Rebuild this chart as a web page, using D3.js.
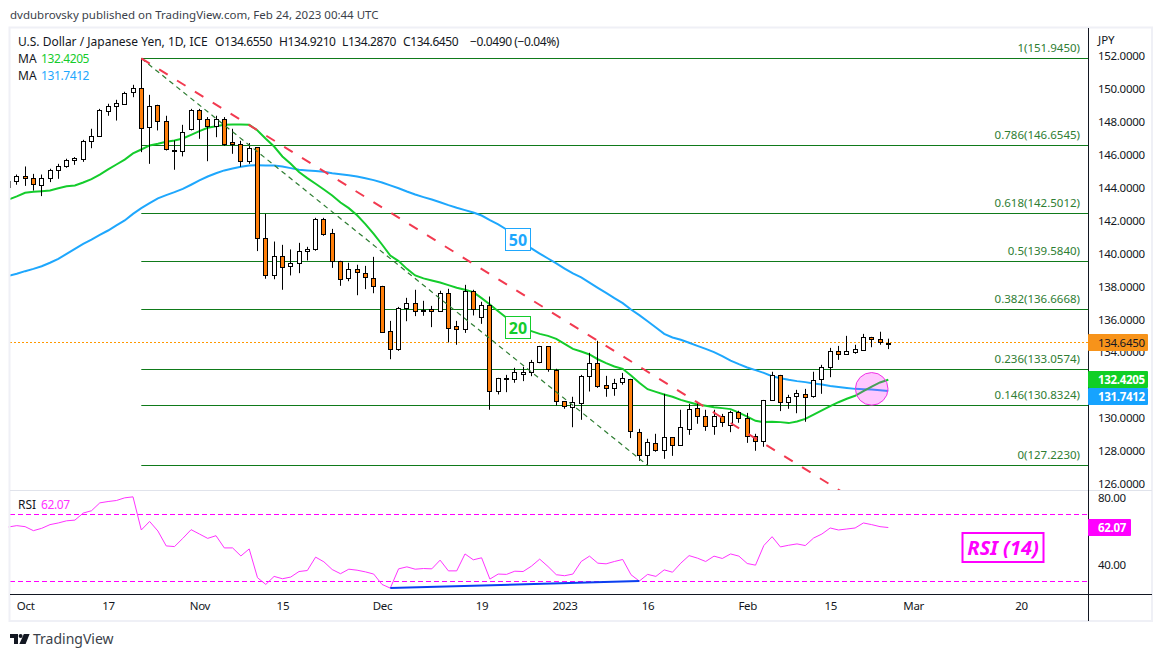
<!DOCTYPE html>
<html>
<head>
<meta charset="utf-8">
<script src="https://d3js.org/d3.v7.min.js"></script>
<style>
  body { margin: 0; background: #fff; }
  text { font-family: "Noto Sans", sans-serif; }
</style>
</head>
<body>
<svg id="chart" width="1162" height="657"></svg>
<script>
// daily USD/JPY candles, first entry is the one cut off by the left edge
var opens = [144.10,144.47,144.75,144.63,144.20,144.63,145.12,145.36,145.72,145.78,146.88,147.20,148.70,149.00,149.19,149.85,150.10,147.73,149.07,148.09,146.33,146.27,147.61,148.76,148.21,147.79,148.21,146.82,146.70,145.66,146.51,140.99,138.74,139.89,139.28,139.47,140.20,140.32,142.14,141.29,139.59,138.56,139.10,138.86,138.56,138.07,135.34,134.24,136.73,137.04,136.63,136.67,136.55,137.64,135.64,135.46,137.77,136.19,136.91,131.67,132.48,132.42,132.72,132.84,133.45,134.42,132.97,131.08,130.72,130.94,132.60,133.39,132.05,131.87,132.24,132.42,129.20,127.80,128.53,128.11,128.90,128.41,129.38,130.66,130.17,129.56,130.17,129.62,130.41,130.05,128.96,128.65,131.14,132.66,131.02,131.39,131.51,131.39,132.42,133.15,134.12,133.94,134.06,134.18,134.97,134.85,134.655];
var highs = [144.55,144.89,145.38,144.93,144.89,145.24,145.54,145.85,145.95,147.00,147.67,148.88,149.19,149.43,149.92,150.34,151.945,149.73,149.13,148.46,146.96,147.91,148.88,148.88,148.38,148.46,148.38,147.67,146.94,146.80,146.55,142.50,140.82,140.62,140.34,140.74,140.50,142.26,142.26,141.59,139.65,139.53,139.41,139.34,139.89,138.13,136.00,136.85,137.40,137.89,137.22,136.91,137.83,137.95,136.00,138.19,137.89,137.16,137.48,132.54,132.72,133.15,133.21,133.63,134.48,134.42,133.09,131.08,131.39,132.72,134.06,134.79,132.66,132.48,132.84,132.48,129.44,128.84,129.14,131.57,128.90,130.60,130.96,131.08,130.60,130.60,130.35,130.54,130.54,130.41,129.14,131.20,132.91,132.72,131.51,131.81,131.87,132.91,133.33,134.36,134.48,135.09,134.55,135.21,135.03,135.34,134.921];
var lows = [144.00,144.27,144.20,143.92,143.58,144.43,144.63,145.30,145.48,145.66,146.49,147.18,148.46,148.17,149.19,149.59,146.25,145.54,147.57,146.35,145.18,145.99,147.57,147.06,145.70,147.16,146.63,146.15,145.36,145.54,140.24,138.56,138.53,137.89,138.76,138.90,139.67,140.26,141.17,139.22,138.13,138.41,137.56,137.93,137.68,135.27,133.67,134.18,135.98,136.29,136.31,135.62,136.55,134.69,134.55,135.27,136.33,135.82,130.60,131.53,131.67,132.24,132.34,132.64,133.43,132.91,130.86,130.66,129.54,129.99,131.71,131.93,131.39,131.45,132.12,128.88,127.50,127.223,128.05,127.62,127.80,128.41,129.08,129.75,129.32,129.08,129.56,129.24,129.81,128.59,128.11,128.35,131.14,130.52,130.66,130.39,129.87,131.33,131.57,132.58,133.63,133.94,134.00,134.18,134.40,134.55,134.287];
var closes = [144.47,144.75,144.63,144.27,144.63,145.12,145.36,145.72,145.85,146.88,147.18,148.76,149.00,149.19,149.83,150.10,147.67,149.00,148.09,146.39,146.27,147.42,148.76,148.21,147.79,148.21,146.70,146.72,145.66,146.45,140.99,138.74,139.89,139.22,139.47,140.20,140.32,142.14,141.23,139.59,138.49,139.10,138.92,138.62,138.07,135.27,134.24,136.73,137.04,136.55,136.59,136.55,137.64,135.52,135.46,137.77,136.67,136.91,131.69,132.48,132.42,132.84,132.84,133.45,134.42,133.03,131.08,130.78,131.02,132.60,133.39,131.99,131.87,132.18,132.48,129.26,127.80,128.59,128.11,128.90,128.41,129.50,130.60,130.17,129.56,130.17,129.81,130.41,130.05,128.96,128.65,131.14,132.66,131.02,131.33,131.57,131.33,132.36,133.15,134.12,133.94,134.12,134.24,134.97,134.85,134.67,134.645];

var ma20 = [143.37,143.56,143.78,143.84,143.88,143.92,144.06,144.18,144.23,144.41,144.61,144.89,145.20,145.50,145.80,146.17,146.41,146.66,146.76,146.88,146.96,147.08,147.30,147.53,147.73,147.83,147.91,147.93,147.93,147.91,147.57,147.06,146.59,145.99,145.54,145.04,144.67,144.33,143.98,143.62,143.19,142.85,142.42,141.88,141.29,140.64,139.97,139.63,139.16,138.76,138.58,138.45,138.33,138.17,138.01,137.89,137.75,137.38,137.00,136.59,136.19,135.82,135.56,135.38,135.21,135.09,134.91,134.61,134.30,134.14,133.96,133.67,133.43,133.23,133.09,132.68,132.24,131.85,131.69,131.53,131.39,131.20,131.06,130.92,130.84,130.76,130.70,130.64,130.43,130.19,129.93,129.85,129.87,129.85,129.79,129.89,130.05,130.31,130.56,130.82,131.06,131.27,131.45,131.73,132.01,132.26,132.4205];
var ma50 = [138.74,138.86,139.02,139.16,139.32,139.53,139.77,140.07,140.38,140.68,140.94,141.23,141.49,141.80,142.10,142.50,142.85,143.15,143.44,143.64,143.82,144.02,144.27,144.53,144.77,144.97,145.14,145.26,145.36,145.44,145.46,145.44,145.44,145.38,145.28,145.18,145.14,145.10,145.06,144.97,144.91,144.85,144.77,144.67,144.55,144.41,144.23,144.06,143.86,143.68,143.52,143.37,143.21,143.03,142.87,142.73,142.58,142.40,142.12,141.86,141.55,141.19,140.82,140.40,140.09,139.79,139.49,139.18,138.88,138.64,138.33,138.01,137.70,137.38,137.08,136.69,136.35,135.98,135.60,135.21,134.99,134.85,134.67,134.48,134.30,134.10,133.86,133.59,133.37,133.17,133.01,132.84,132.64,132.52,132.42,132.34,132.28,132.20,132.14,132.05,131.99,131.93,131.87,131.85,131.83,131.79,131.7412];
var rsi = [62.4,63.2,62.6,60.2,61.6,63.8,64.8,66.1,66.5,70.7,72.1,76.8,77.6,78.2,79.8,80.4,60.6,65.7,60.0,51.1,50.7,55.6,60.8,58.2,55.6,57.2,49.9,49.9,45.1,49.3,32.1,28.1,32.9,31.5,32.5,35.8,36.4,44.4,41.6,37.0,34.5,37.2,36.6,35.6,34.3,28.1,25.9,37.4,38.6,37.2,37.6,37.4,42.6,36.2,36.2,46.3,42.8,44.0,31.3,34.3,34.1,36.0,35.8,39.0,43.2,38.8,33.9,33.3,34.3,41.8,45.0,40.8,40.4,41.8,43.0,33.9,30.1,34.1,32.9,36.8,35.4,40.8,45.3,43.8,41.8,45.0,43.6,46.3,45.0,40.6,39.6,51.3,56.6,50.5,51.5,52.3,51.3,55.8,58.2,61.8,60.6,61.2,61.8,64.8,63.8,62.6,62.07];

var fibLevels = [151.945,146.6545,142.5012,139.584,136.6668,133.0574,130.8324,127.223];
var fibLabels = ["1(151.9450)","0.786(146.6545)","0.618(142.5012)","0.5(139.5840)","0.382(136.6668)","0.236(133.0574)","0.146(130.8324)","0(127.2230)"];

var priceTicks = [152,150,148,146,144,142,140,138,136,134,130,128,126];
var rsiTicks = [80,40];
var timeTickDays = [1,11,22,32,44,56,66,76,88,98,108,121];
var timeTickLabels = ["Oct","17","Nov","15","Dec","19","2023","16","Feb","15","Mar","20"];

var peakDay = 15, lowDay = 76, trendEndDay = 105, trendEndPrice = 123.87;
var divergenceDays = [45,75], divergenceRsi = [25.9,30.1];
var circleDay = 103, circlePrice = 131.87;

var lastPrice = 134.645;

var svg = d3.select("#chart");
var days = d3.range(-1, 106);

var x = d3.scaleLinear().domain([15, 105]).range([141.3, 888.3]);
var y = d3.scaleLinear().domain([126, 152]).range([485.5, 57.5]);
var yRsi = d3.scaleLinear().domain([40, 80]).range([564.5, 497.5]);

var plotLeft = 10, plotRight = 1088, plotTop = 28, plotMid = 490, plotBottom = 594, frameRight = 1152, frameBottom = 621;

var crisp = function(v) { return Math.round(v - 0.5) + 0.5; };

svg.append("rect").attr("width", 1162).attr("height", 657).attr("fill", "#fff");

svg.append("text").attr("x", 10).attr("y", 19).attr("font-size", 11.5).attr("fill", "#3b3f4a")
  .text("dvdubrovsky published on TradingView.com, Feb 24, 2023 00:44 UTC");

var defs = svg.append("defs");
defs.append("clipPath").attr("id", "priceClip").append("rect")
  .attr("x", plotLeft).attr("y", plotTop).attr("width", plotRight - plotLeft).attr("height", plotMid - plotTop);

var price = svg.append("g").attr("clip-path", "url(#priceClip)");

// fib levels
price.selectAll(".fib").data(fibLevels).enter().append("line")
  .attr("x1", x(peakDay)).attr("x2", plotRight)
  .attr("y1", function(d) { return crisp(y(d)); }).attr("y2", function(d) { return crisp(y(d)); })
  .attr("stroke", "#0f7a1a").attr("stroke-width", 1);

// last price
price.append("line").attr("x1", plotLeft).attr("x2", plotRight)
  .attr("y1", crisp(y(lastPrice) - 1)).attr("y2", crisp(y(lastPrice) - 1))
  .attr("stroke", "#ff9800").attr("stroke-width", 1).attr("stroke-dasharray", "2 2");

// moving averages
var maLine = d3.line().x(function(d, i) { return x(days[i]); }).y(function(d) { return y(d); });
price.append("path").attr("d", maLine(ma50)).attr("fill", "none").attr("stroke", "#1ea7fd").attr("stroke-width", 2);
price.append("path").attr("d", maLine(ma20)).attr("fill", "none").attr("stroke", "#14cc2c").attr("stroke-width", 2);

// candles
var candles = price.selectAll(".candle").data(days).enter().append("g");
candles.append("line")
  .attr("x1", function(d) { return crisp(x(d)); }).attr("x2", function(d) { return crisp(x(d)); })
  .attr("y1", function(d, i) { return y(highs[i]); }).attr("y2", function(d, i) { return y(lows[i]); })
  .attr("stroke", "#000").attr("stroke-width", 1);
candles.append("rect")
  .attr("x", function(d) { return crisp(x(d)) - 2; }).attr("width", 4)
  .attr("y", function(d, i) { return crisp(y(Math.max(opens[i], closes[i]))); })
  .attr("height", function(d, i) { return Math.max(1, Math.round(y(Math.min(opens[i], closes[i])) - y(Math.max(opens[i], closes[i])))); })
  .attr("fill", function(d, i) { return closes[i] >= opens[i] ? "#fff" : "#ff7f0a"; })
  .attr("stroke", "#000").attr("stroke-width", 1);

// fib trend line and falling resistance
price.append("line").attr("x1", x(peakDay)).attr("y1", y(fibLevels[0])).attr("x2", x(lowDay)).attr("y2", y(fibLevels[7]))
  .attr("stroke", "#2e7d32").attr("stroke-width", 1.2).attr("stroke-dasharray", "5 4");
price.append("line").attr("x1", x(peakDay)).attr("y1", y(fibLevels[0])).attr("x2", x(trendEndDay)).attr("y2", y(trendEndPrice))
  .attr("stroke", "#f23a50").attr("stroke-width", 2).attr("stroke-dasharray", "10 11");

price.append("circle").attr("cx", x(circleDay)).attr("cy", y(circlePrice)).attr("r", 16.3)
  .attr("fill", "#ff00ff").attr("fill-opacity", 0.22).attr("stroke", "#f032e6").attr("stroke-width", 1);

// moving average tags
function tag(px, py, w, h, txt, col) {
  svg.append("rect").attr("x", px).attr("y", py).attr("width", w).attr("height", h)
    .attr("fill", "#fff").attr("stroke", col).attr("stroke-width", 1);
  svg.append("text").attr("x", px + w / 2).attr("y", py + h / 2 + 6).attr("text-anchor", "middle")
    .attr("font-size", 16).attr("font-weight", "bold").attr("fill", col).text(txt);
}
tag(505.5, 228.5, 25, 22, "50", "#1ea7fd");
tag(505.5, 316.5, 25, 22, "20", "#14cc2c");

price.selectAll(".fibLabel").data(fibLabels).enter().append("text")
  .attr("x", 1080).attr("y", function(d, i) { return y(fibLevels[i]) - 6.5; })
  .attr("text-anchor", "end").attr("font-size", 11.5).attr("fill", "#2e7d32")
  .text(function(d) { return d; });

// header
var header = svg.append("g").attr("font-size", 12).attr("fill", "#131722");
header.append("text").attr("x", 18).attr("y", 46).text("U.S. Dollar / Japanese Yen, 1D, ICE");
var ohlcText = ["O134.6550", "H134.9210", "L134.2870", "C134.6450", "\u22120.0490 (\u22120.04%)"];
var ohlcX = [215, 279, 342, 403, 470];
header.selectAll(".ohlc").data(ohlcText).enter().append("text")
  .attr("x", function(d, i) { return ohlcX[i]; }).attr("y", 46).attr("letter-spacing", -0.4).text(function(d) { return d; });
header.append("text").attr("x", 18).attr("y", 63).text("MA");
header.append("text").attr("x", 41).attr("y", 63).attr("letter-spacing", -0.4).attr("fill", "#14cc2c").text("132.4205");
header.append("text").attr("x", 18).attr("y", 80).text("MA");
header.append("text").attr("x", 41).attr("y", 80).attr("letter-spacing", -0.4).attr("fill", "#1ea7fd").text("131.7412");

// RSI panel
var rsiPanel = svg.append("g");
[70, 30].forEach(function(level) {
  rsiPanel.append("line").attr("x1", plotLeft).attr("x2", plotRight)
    .attr("y1", crisp(yRsi(level))).attr("y2", crisp(yRsi(level)))
    .attr("stroke", "#ff00ff").attr("stroke-width", 1).attr("stroke-dasharray", "5 3");
});
var rsiLine = d3.line().x(function(d, i) { return x(days[i]); }).y(function(d) { return yRsi(d); });
rsiPanel.append("path").attr("d", rsiLine(rsi)).attr("fill", "none").attr("stroke", "#ff33ff").attr("stroke-width", 1);
rsiPanel.append("line")
  .attr("x1", x(divergenceDays[0])).attr("y1", yRsi(divergenceRsi[0]))
  .attr("x2", x(divergenceDays[1])).attr("y2", yRsi(divergenceRsi[1]))
  .attr("stroke", "#0b3ff0").attr("stroke-width", 2);

rsiPanel.append("text").attr("x", 18).attr("y", 509).attr("font-size", 12).attr("fill", "#131722").text("RSI");
rsiPanel.append("text").attr("x", 41).attr("y", 509).attr("font-size", 12).attr("letter-spacing", -0.4).attr("fill", "#ff33ff").text("62.07");

rsiPanel.append("rect").attr("x", 962.5).attr("y", 533).attr("width", 81).attr("height", 29)
  .attr("fill", "#fff").attr("stroke", "#ff00ff").attr("stroke-width", 2);
rsiPanel.append("text").attr("x", 1003).attr("y", 555).attr("text-anchor", "middle")
  .attr("font-size", 20).attr("font-weight", "bold").attr("font-style", "italic").attr("fill", "#ff00ff").text("RSI (14)");

// frame and panel rules
svg.append("rect").attr("x", 9.5).attr("y", 27.5).attr("width", frameRight - 9.5).attr("height", frameBottom - 27.5)
  .attr("fill", "none").attr("stroke", "#eff0f6").attr("stroke-width", 2);
svg.append("line").attr("x1", plotLeft).attr("x2", frameRight).attr("y1", plotMid + 0.5).attr("y2", plotMid + 0.5)
  .attr("stroke", "#e0e3eb").attr("stroke-width", 1);
svg.append("line").attr("x1", plotLeft).attr("x2", frameRight).attr("y1", plotBottom + 0.5).attr("y2", plotBottom + 0.5)
  .attr("stroke", "#131722").attr("stroke-width", 1);
svg.append("line").attr("x1", plotRight + 0.5).attr("x2", plotRight + 0.5).attr("y1", plotTop).attr("y2", frameBottom)
  .attr("stroke", "#131722").attr("stroke-width", 1);

// axes, labels sit a pixel above their tick
function styleAxis(g) {
  g.select(".domain").remove();
  g.selectAll("line").remove();
  g.selectAll("text").attr("font-size", 11.5).attr("letter-spacing", -0.3).attr("fill", "#131722").attr("font-family", '"Noto Sans", sans-serif');
}
svg.append("g").attr("transform", "translate(" + plotRight + ",-1.5)")
  .call(d3.axisRight(y).tickValues(priceTicks).tickSize(0).tickPadding(10).tickFormat(d3.format(".4f")))
  .call(styleAxis);
svg.append("g").attr("transform", "translate(" + plotRight + ",0)")
  .call(d3.axisRight(yRsi).tickValues(rsiTicks).tickSize(0).tickPadding(10).tickFormat(d3.format(".2f")))
  .call(styleAxis);
svg.append("g").attr("transform", "translate(0," + plotBottom + ")")
  .call(d3.axisBottom(x).tickValues(timeTickDays).tickSize(0).tickPadding(8).tickFormat(function(d, i) { return timeTickLabels[i]; }))
  .call(styleAxis);

svg.append("text").attr("x", 1098).attr("y", 44).attr("font-size", 11.5).attr("fill", "#131722").text("JPY");

// value tags on the scales
function scaleTag(py, w, txt, bg, fg, weight) {
  svg.append("rect").attr("x", plotRight).attr("y", py).attr("width", w).attr("height", 17).attr("fill", bg).attr("rx", 1);
  svg.append("text").attr("x", 1098).attr("y", py + 12.5).attr("font-size", 11.5).attr("letter-spacing", -0.3).attr("font-weight", weight).attr("fill", fg).text(txt);
}
scaleTag(334, 60, "134.6450", "#f7931a", "#131722", "normal");
scaleTag(371, 60, "132.4205", "#10cf25", "#fff", "bold");
scaleTag(388, 60, "131.7412", "#16a3ff", "#fff", "bold");
scaleTag(519, 43, "62.07", "#ff00ff", "#fff", "bold");

// footer logo
var logo = svg.append("g").attr("fill", "#131722");
logo.append("path").attr("d", "M10 634H18V644H14V638H10Z");
logo.append("circle").attr("cx", 20.6).attr("cy", 636).attr("r", 2);
logo.append("path").attr("d", "M23.8 634H29.6L25.6 644H19.4Z");
svg.append("text").attr("x", 33).attr("y", 644).attr("font-size", 14).attr("fill", "#3b3f4a").text("TradingView");
</script>
</body>
</html>
